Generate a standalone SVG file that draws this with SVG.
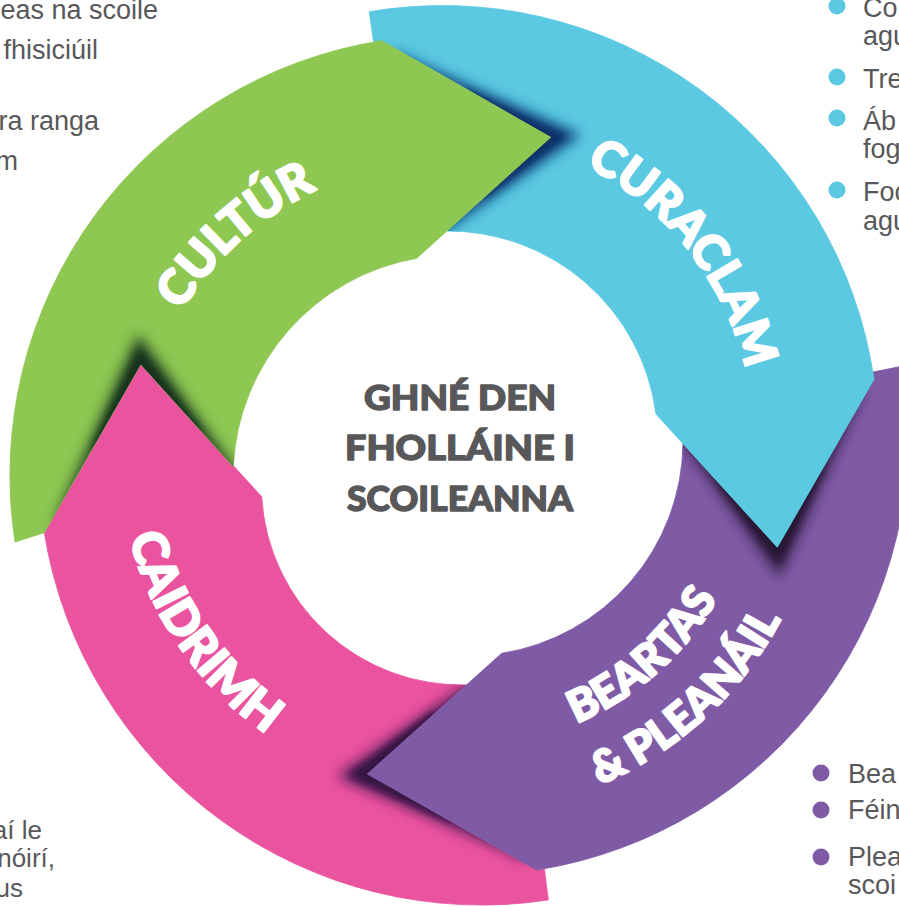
<svg xmlns="http://www.w3.org/2000/svg" width="899" height="907" viewBox="0 0 899 907">
<style>
.lbl{font-family:Lato,"DejaVu Sans",sans-serif;font-weight:900;fill:#ffffff;stroke:#ffffff;stroke-width:2.2;stroke-linejoin:round;}
.big{font-size:48px;}
.mid{font-size:44px;}
.ctr{font-family:Lato,"DejaVu Sans",sans-serif;font-weight:900;font-size:35px;fill:#58585a;stroke:#58585a;stroke-width:1.4;stroke-linejoin:round;}
.note{font-family:"Liberation Sans",Arial,sans-serif;font-size:27px;fill:#58585a;}
.small{font-size:26px;}
.green{fill:#8ec752;stroke:#8ec752;stroke-width:0.8;}
.cyan{fill:#5bc9e1;stroke:#5bc9e1;stroke-width:0.8;}
.purple{fill:#7f5ba6;stroke:#7f5ba6;stroke-width:0.8;}
.pink{fill:#ea539e;stroke:#ea539e;stroke-width:0.8;}
</style>
<defs>
<filter id="soft" x="-40%" y="-40%" width="180%" height="180%"><feGaussianBlur stdDeviation="6.5"/></filter>
<filter id="core" x="-40%" y="-40%" width="180%" height="180%"><feGaussianBlur stdDeviation="3"/></filter>
<path id="shape-cultur" d="M 15 542 A 440 440 0 0 1 381.7 40.7 L 550.7 137.3 L 416.7 258.3 A 222 222 0 0 0 233.3 466.7 L 140.7 364.3 L 44.3 532.7 Z"/>
<path id="shape-curaclam" d="M 369.3 11.7 A 436 436 0 0 1 874 379.3 L 777.3 547.3 L 656 414 A 210 210 0 0 0 446 231 L 550.7 137.3 L 381.7 40.7 L 373.5 42.1 Z"/>
<path id="shape-beartas" d="M 903 366 A 440 440 0 0 1 536.7 870 L 367.3 774 L 501.7 653.3 A 215 215 0 0 0 683 443.7 L 777.3 547.3 L 874 379.3 L 872.9 372 Z"/>
<path id="shape-caidrimh" d="M 44.3 532.7 L 140.7 364.3 L 261.7 496.7 A 200 200 0 0 0 466.5 684.9 L 367.3 774 L 536.7 870 L 544.4 869 L 548.3 900 A 443 443 0 0 1 44.3 532.7 Z"/>
<clipPath id="clip-cultur"><use href="#shape-cultur"/></clipPath>
<clipPath id="clip-curaclam"><use href="#shape-curaclam"/></clipPath>
<clipPath id="clip-beartas"><use href="#shape-beartas"/></clipPath>
<clipPath id="clip-caidrimh"><use href="#shape-caidrimh"/></clipPath>
<path id="tp-cultur" d="M 141.7 540.6 A 316 316 0 0 1 549.7 175.8"/>
<path id="tp-curaclam" d="M 401.2 135.1 A 309 309 0 0 1 731.8 556"/>
<path id="tp-caidrimh" d="M 151.6 306 A 343 343 0 0 0 490.7 793.8"/>
<path id="tp-beartas" d="M 368.6 731.3 A 294.5 294.5 0 0 0 750.6 393.3"/>
<path id="tp-pleanail" d="M 353.1 795.1 A 360 360 0 0 0 813.6 374.7"/>
</defs>
<rect width="899" height="907" fill="#ffffff"/>

<g id="node-caidrimh">
<use href="#shape-caidrimh" class="pink"/>
<g clip-path="url(#clip-caidrimh)">
<polygon points="527.3,859.8 337.4,776.4 495.9,664.7 519.2,761.7" fill="#3e1650" filter="url(#soft)"/>
<polygon points="452,822 352,775 434,711 440,770" fill="#34123f" filter="url(#core)"/>
</g>
<text class="lbl big"><textPath href="#tp-caidrimh" startOffset="50%" text-anchor="middle">CAIDRIMH</textPath></text>
</g>

<g id="node-beartas">
<use href="#shape-beartas" class="purple"/>
<g clip-path="url(#clip-beartas)">
<polygon points="863.8,388.6 779.7,577.2 667.5,419.8 765,396.7" fill="#2d1b3f" filter="url(#soft)"/>
<polygon points="826,463 778.5,562 717,481 770,470" fill="#281433" filter="url(#core)"/>
</g>
<text class="lbl mid"><textPath href="#tp-beartas" startOffset="50%" text-anchor="middle">BEARTAS</textPath></text>
<text class="lbl mid"><textPath href="#tp-pleanail" startOffset="50%" text-anchor="middle">&amp; PLEANÁIL</textPath></text>
</g>

<g id="node-curaclam">
<use href="#shape-curaclam" class="cyan"/>
<g clip-path="url(#clip-curaclam)">
<polygon points="391.1,50.9 580.6,134.9 422.5,246.9 399.2,149.5" fill="#0d3a78" filter="url(#soft)"/>
<polygon points="466,89 565,136 484,198 470,140" fill="#0a3266" filter="url(#core)"/>
</g>
<text class="lbl big"><textPath href="#tp-curaclam" startOffset="50%" text-anchor="middle">CURACLAM</textPath></text>
</g>

<g id="node-cultur">
<use href="#shape-cultur" class="green"/>
<g clip-path="url(#clip-cultur)">
<polygon points="54.5,523.4 138.3,334.4 250.3,491 153,514.7" fill="#1e3a22" filter="url(#soft)"/>
<polygon points="92,448 139.5,350 201,431 145,440" fill="#18301c" filter="url(#core)"/>
</g>
<text class="lbl big"><textPath href="#tp-cultur" startOffset="50%" text-anchor="middle">CULTÚR</textPath></text>
</g>

<g id="node-center">
<text class="ctr" x="460" y="410" text-anchor="middle" textLength="192" lengthAdjust="spacingAndGlyphs">GHNÉ DEN</text>
<text class="ctr" x="460" y="460" text-anchor="middle" textLength="230" lengthAdjust="spacingAndGlyphs">FHOLLÁINE I</text>
<text class="ctr" x="460" y="511" text-anchor="middle" textLength="226" lengthAdjust="spacingAndGlyphs">SCOILEANNA</text>
</g>

<g id="notes-left">
<text class="note" x="158" y="19" text-anchor="end">eas na scoile</text>
<text class="note" x="98" y="59" text-anchor="end">fhisiciúil</text>
<text class="note" x="99" y="130" text-anchor="end">ra ranga</text>
<text class="note" x="18" y="170" text-anchor="end">m</text>
<text class="note small" x="42" y="839" text-anchor="end">aí le</text>
<text class="note small" x="55" y="867" text-anchor="end">mhnóirí,</text>
<text class="note small" x="23" y="897" text-anchor="end">us</text>
</g>

<g id="notes-curaclam">
<circle cx="837" cy="6" r="8.5" fill="#5bc9e1"/>
<circle cx="837" cy="77" r="8.5" fill="#5bc9e1"/>
<circle cx="837" cy="118" r="8.5" fill="#5bc9e1"/>
<circle cx="837" cy="190" r="8.5" fill="#5bc9e1"/>
<text class="note" x="863" y="17">Co</text>
<text class="note" x="863" y="45">agu</text>
<text class="note" x="863" y="88">Tre</text>
<text class="note" x="863" y="130">Áb</text>
<text class="note" x="863" y="158">fog</text>
<text class="note" x="863" y="201">Foc</text>
<text class="note" x="863" y="230">agu</text>
</g>

<g id="notes-beartas">
<circle cx="821" cy="773" r="8.5" fill="#7f5ba6"/>
<circle cx="821" cy="810" r="8.5" fill="#7f5ba6"/>
<circle cx="821" cy="857" r="8.5" fill="#7f5ba6"/>
<text class="note" x="848" y="783">Bea</text>
<text class="note" x="848" y="819">Féin</text>
<text class="note" x="848" y="866">Plea</text>
<text class="note" x="848" y="894">scoi</text>
</g>
</svg>
